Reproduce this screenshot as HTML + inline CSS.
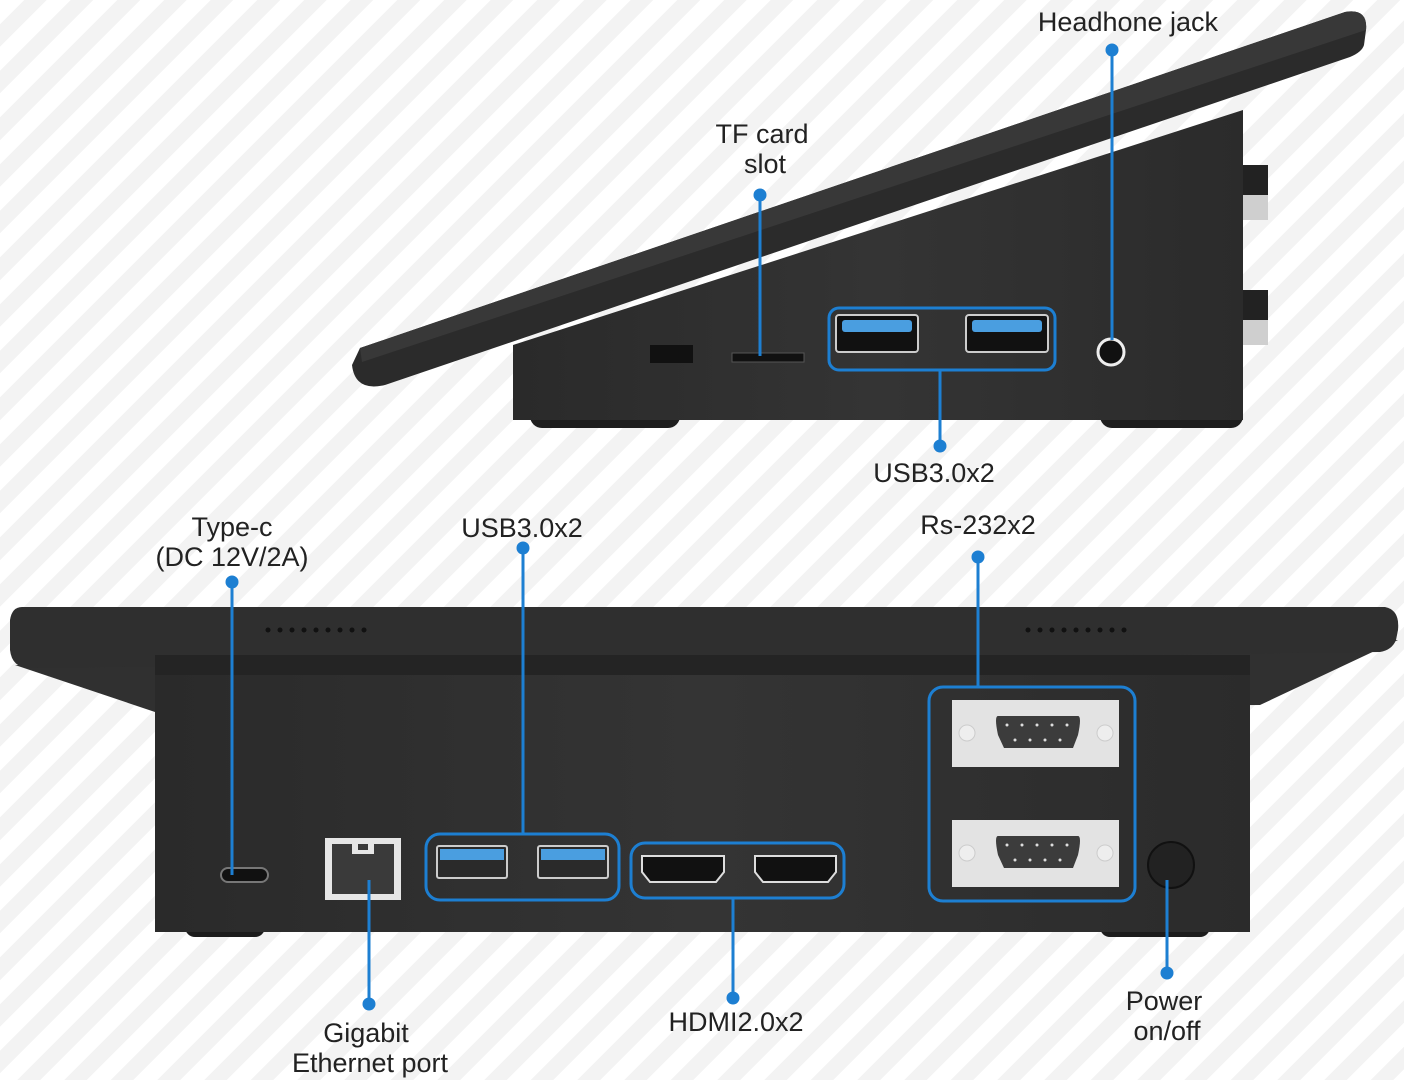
<!DOCTYPE html>
<html><head><meta charset="utf-8"><style>
html,body{margin:0;padding:0}
body{width:1404px;height:1080px;overflow:hidden;background:repeating-linear-gradient(135deg,#fff 0 17px,#f3f3f3 17px 33px);}
svg{position:absolute;left:0;top:0}
text{font-family:"Liberation Sans","DejaVu Sans",sans-serif;font-size:27px;fill:#222;text-anchor:middle}
</style></head><body>
<svg width="1404" height="1080" viewBox="0 0 1404 1080">
<defs>
<linearGradient id="box" x1="0" y1="0" x2="1" y2="0"><stop offset="0" stop-color="#2a2a2a"/><stop offset="0.5" stop-color="#343434"/><stop offset="1" stop-color="#2b2b2b"/></linearGradient>
</defs>
<!-- TOP DEVICE -->
<rect x="530" y="400" width="150" height="28" rx="12" fill="#1e1e1e"/>
<rect x="1100" y="400" width="143" height="28" rx="12" fill="#1e1e1e"/>
<polygon points="513,345 1243,110 1243,420 513,420" fill="url(#box)"/>
<rect x="1243" y="165" width="25" height="55" fill="#cfcfcf"/><rect x="1243" y="165" width="25" height="30" fill="#222"/>
<rect x="1243" y="290" width="25" height="55" fill="#cfcfcf"/><rect x="1243" y="290" width="25" height="30" fill="#222"/>
<path d="M360,348 L1345,12 Q1368,8 1366,30 L1364,45 Q1362,52 1350,57 L385,385 Q355,392 352,365 Z" fill="#2b2b2b"/>
<path d="M360,348 L1345,12 Q1368,8 1366,30 L362,362 Z" fill="#383838"/>
<rect x="650" y="345" width="43" height="18" fill="#111"/>
<rect x="732" y="353" width="72" height="9" fill="#111" stroke="#555" stroke-width="1"/>
<rect x="836" y="315" width="82" height="37" rx="3" fill="#111" stroke="#ccc" stroke-width="2"/><rect x="842" y="320" width="70" height="12" rx="3" fill="#4a9ee0"/>
<rect x="966" y="315" width="82" height="37" rx="3" fill="#111" stroke="#ccc" stroke-width="2"/><rect x="972" y="320" width="70" height="12" rx="3" fill="#4a9ee0"/>
<rect x="829" y="308" width="226" height="62" rx="10" fill="none" stroke="#1d7fd2" stroke-width="3"/>
<circle cx="1111" cy="352" r="13" fill="#111" stroke="#eee" stroke-width="3"/>
<!-- top callouts -->
<g stroke="#1d7fd2" stroke-width="3" fill="#1d7fd2">
<line x1="760" y1="195" x2="760" y2="356"/><circle cx="760" cy="195" r="5"/>
<line x1="1112" y1="50" x2="1112" y2="340"/><circle cx="1112" cy="50" r="5"/>
<line x1="940" y1="370" x2="940" y2="446"/><circle cx="940" cy="446" r="5"/>
</g>
<text x="762" y="143">TF card</text><text x="765" y="173">slot</text>
<text x="1128" y="31">Headhone jack</text>
<text x="934" y="482">USB3.0x2</text>
<!-- BOTTOM DEVICE -->
<rect x="185" y="915" width="80" height="22" rx="10" fill="#1c1c1c"/>
<rect x="1100" y="915" width="110" height="22" rx="10" fill="#1c1c1c"/>
<polygon points="15,665 1398,640 1260,705 155,712" fill="#303030"/>
<path d="M22,607 L1385,607 Q1400,610 1398,630 L1396,640 Q1392,650 1380,652 L30,668 Q12,668 10,650 L10,620 Q12,607 22,607 Z" fill="#2f2f2f"/>
<rect x="155" y="655" width="1095" height="277" fill="url(#box)"/>
<rect x="155" y="655" width="1095" height="20" fill="#242424"/>
<g fill="#111"><circle cx="268" cy="630" r="2.5"/><circle cx="280" cy="630" r="2.5"/><circle cx="292" cy="630" r="2.5"/><circle cx="304" cy="630" r="2.5"/><circle cx="316" cy="630" r="2.5"/><circle cx="328" cy="630" r="2.5"/><circle cx="340" cy="630" r="2.5"/><circle cx="352" cy="630" r="2.5"/><circle cx="364" cy="630" r="2.5"/>
<circle cx="1028" cy="630" r="2.5"/><circle cx="1040" cy="630" r="2.5"/><circle cx="1052" cy="630" r="2.5"/><circle cx="1064" cy="630" r="2.5"/><circle cx="1076" cy="630" r="2.5"/><circle cx="1088" cy="630" r="2.5"/><circle cx="1100" cy="630" r="2.5"/><circle cx="1112" cy="630" r="2.5"/><circle cx="1124" cy="630" r="2.5"/></g>
<rect x="221" y="868" width="47" height="14" rx="7" fill="#111" stroke="#777" stroke-width="2"/>
<rect x="325" y="838" width="76" height="62" fill="#e6e6e6"/>
<path d="M332,844 H394 V894 H332 Z" fill="#3a3a3a"/><rect x="352" y="844" width="22" height="10" fill="#e6e6e6"/><rect x="358" y="844" width="10" height="6" fill="#3a3a3a"/>
<rect x="437" y="846" width="70" height="32" rx="2" fill="#2a2a2a" stroke="#ccc" stroke-width="2"/><rect x="440" y="849" width="64" height="11" fill="#4a9ee0"/>
<rect x="538" y="846" width="70" height="32" rx="2" fill="#2a2a2a" stroke="#ccc" stroke-width="2"/><rect x="541" y="849" width="64" height="11" fill="#4a9ee0"/>
<rect x="426" y="834" width="193" height="66" rx="14" fill="none" stroke="#1d7fd2" stroke-width="3"/>
<path d="M642,856 H724 V872 L716,882 H650 L642,872 Z" fill="#111" stroke="#ddd" stroke-width="2"/>
<path d="M755,856 H836 V872 L828,882 H763 L755,872 Z" fill="#111" stroke="#ddd" stroke-width="2"/>
<rect x="631" y="843" width="213" height="55" rx="14" fill="none" stroke="#1d7fd2" stroke-width="3"/>
<rect x="952" y="700" width="167" height="67" fill="#e3e3e3"/>
<rect x="952" y="820" width="167" height="67" fill="#e3e3e3"/>
<circle cx="967" cy="733" r="8" fill="#eee" stroke="#ccc"/><circle cx="1105" cy="733" r="8" fill="#eee" stroke="#ccc"/>
<circle cx="967" cy="853" r="8" fill="#eee" stroke="#ccc"/><circle cx="1105" cy="853" r="8" fill="#eee" stroke="#ccc"/>
<path d="M998,716 H1078 Q1082,716 1078,735 L1073,748 H1004 L998,735 Q994,716 998,716 Z" fill="#3c3c3c"/>
<path d="M998,836 H1078 Q1082,836 1078,855 L1073,868 H1004 L998,855 Q994,836 998,836 Z" fill="#3c3c3c"/>
<g fill="#ddd"><circle cx="1007" cy="725" r="1.5"/><circle cx="1022" cy="725" r="1.5"/><circle cx="1037" cy="725" r="1.5"/><circle cx="1052" cy="725" r="1.5"/><circle cx="1067" cy="725" r="1.5"/><circle cx="1015" cy="740" r="1.5"/><circle cx="1030" cy="740" r="1.5"/><circle cx="1045" cy="740" r="1.5"/><circle cx="1060" cy="740" r="1.5"/>
<circle cx="1007" cy="845" r="1.5"/><circle cx="1022" cy="845" r="1.5"/><circle cx="1037" cy="845" r="1.5"/><circle cx="1052" cy="845" r="1.5"/><circle cx="1067" cy="845" r="1.5"/><circle cx="1015" cy="860" r="1.5"/><circle cx="1030" cy="860" r="1.5"/><circle cx="1045" cy="860" r="1.5"/><circle cx="1060" cy="860" r="1.5"/></g>
<rect x="929" y="687" width="206" height="214" rx="14" fill="none" stroke="#1d7fd2" stroke-width="3"/>
<circle cx="1171" cy="865" r="23" fill="#222" stroke="#111" stroke-width="2"/>
<!-- bottom callouts -->
<g stroke="#1d7fd2" stroke-width="3" fill="#1d7fd2">
<line x1="232" y1="582" x2="232" y2="875"/><circle cx="232" cy="582" r="5"/>
<line x1="523" y1="548" x2="523" y2="834"/><circle cx="523" cy="548" r="5"/>
<line x1="978" y1="557" x2="978" y2="687"/><circle cx="978" cy="557" r="5"/>
<line x1="369" y1="880" x2="369" y2="1004"/><circle cx="369" cy="1004" r="5"/>
<line x1="733" y1="898" x2="733" y2="998"/><circle cx="733" cy="998" r="5"/>
<line x1="1167" y1="880" x2="1167" y2="973"/><circle cx="1167" cy="973" r="5"/>
</g>
<text x="232" y="536">Type-c</text><text x="232" y="566">(DC 12V/2A)</text>
<text x="522" y="537">USB3.0x2</text>
<text x="978" y="534">Rs-232x2</text>
<text x="366" y="1042">Gigabit</text><text x="370" y="1072">Ethernet port</text>
<text x="736" y="1031">HDMI2.0x2</text>
<text x="1164" y="1010">Power</text><text x="1167" y="1040">on/off</text>
</svg>
</body></html>
